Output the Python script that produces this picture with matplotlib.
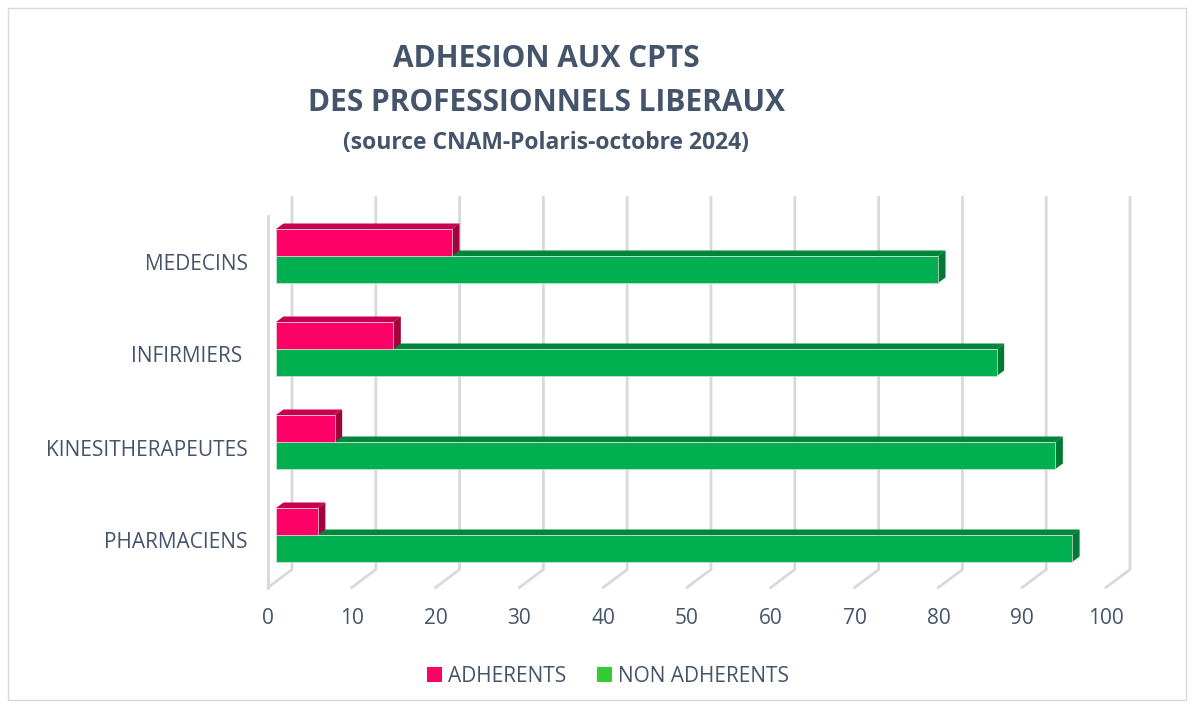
import numpy as np
import matplotlib.pyplot as plt
from matplotlib.patches import Polygon, Rectangle, Patch

# data (percent of professionals)
categories = ['MEDECINS', 'INFIRMIERS ', 'KINESITHERAPEUTES', 'PHARMACIENS']
adherents = [21, 14, 7, 5]
non_adherents = [79, 86, 93, 95]
series_names = ['ADHERENTS', 'NON ADHERENTS']
xticks = list(range(0, 101, 10))

plt.rcParams['font.family'] = ['Open Sans', 'DejaVu Sans']
TXT = '#44546a'
GRID = '#d9d9d9'

W, H = 1194, 706
fig = plt.figure(figsize=(W / 100, H / 100), dpi=100)

# axes = plane of the bar fronts
ax = fig.add_axes([276 / W, 1 - 581.5 / H, 838 / W, 372 / H])
ax.set_xlim(0, 100)
ax.set_ylim(len(categories) - 0.5, -0.5)
ax.axis('off')

px_x = 100 / 838
px_y = len(categories) / 372


def shift(dx, dy):
    # pixels (right, up) -> data units
    return dx * px_x, -dy * px_y


bx, by = shift(16, 12)    # back wall
fx, fy = shift(-8, -6)    # front edge of floor
y_top, y_bot = -0.5, len(categories) - 0.5

# grid: back wall verticals + floor diagonals
for v in xticks:
    ax.plot([v + bx, v + bx, v + fx], [y_top + by, y_bot + by, y_bot + fy],
            color=GRID, lw=2.0, clip_on=False, zorder=1, solid_joinstyle='miter')
# left side wall front edge
ax.plot([fx, fx], [y_top + fy, y_bot + fy], color=GRID, lw=2.0, clip_on=False, zorder=1)

# tick labels along the front of the floor
for v in xticks:
    ax.text(v + fx, y_bot + fy + 31 * px_y, str(v), ha='center', va='center',
            fontsize=15, color=TXT, clip_on=False)

# category labels
lx, ly = shift(-28, -8)
for i, c in enumerate(categories):
    ax.text(lx, i + ly, c, ha='right', va='center', fontsize=15, color=TXT, clip_on=False)

# 3d bars
bar_h = 27 * px_y
ddx, ddy = shift(7.5, 5.5)
y = np.arange(len(categories))


def faces(vals, ypos, c_top, c_side):
    for v, yc in zip(vals, ypos):
        y0, y1 = yc - bar_h / 2, yc + bar_h / 2
        ax.add_patch(Polygon([(0, y0), (v, y0), (v + ddx, y0 + ddy), (ddx, y0 + ddy)],
                             closed=True, fc=c_top, ec='none', zorder=3, clip_on=False))
        ax.add_patch(Polygon([(v, y0), (v + ddx, y0 + ddy), (v + ddx, y1 + ddy), (v, y1)],
                             closed=True, fc=c_side, ec='none', zorder=3, clip_on=False))


green_y = y + bar_h / 2
pink_y = y - bar_h / 2
faces(non_adherents, green_y, '#00853a', '#007a33')
ax.barh(green_y, non_adherents, height=bar_h, color='#00b050', zorder=3,
        edgecolor='#dcdcdc', linewidth=0.5, clip_on=False)
faces(adherents, pink_y, '#c8004f', '#a3003e')
ax.barh(pink_y, adherents, height=bar_h, color='#ff0066', zorder=4,
        edgecolor='#dcdcdc', linewidth=0.5, clip_on=False)

# titles
fig.text(546 / W, 1 - 59 / H, 'ADHESION AUX CPTS', ha='center', va='center',
         fontsize=21.5, fontweight='bold', color=TXT)
fig.text(546 / W, 1 - 103 / H, 'DES PROFESSIONNELS LIBERAUX', ha='center', va='center',
         fontsize=21.5, fontweight='bold', color=TXT)
fig.text(546 / W, 1 - 143 / H, '(source CNAM-Polaris-octobre 2024)', ha='center', va='center',
         fontsize=16.5, fontweight='bold', color=TXT)

# legend
handles = [Patch(fc='#ff0066'), Patch(fc='#33cc33')]
fig.legend(handles, series_names, loc='center', bbox_to_anchor=(608 / W, 1 - 676 / H),
           ncol=2, frameon=False, fontsize=15, handlelength=0.7, handleheight=0.7,
           handletextpad=0.3, columnspacing=1.5, labelcolor=TXT)

# chart border
fig.patches.append(Rectangle((8 / W, 6 / H), (1186 - 8) / W, (700 - 8) / H,
                             transform=fig.transFigure, fill=False, ec='#d9d9d9', lw=1))

fig.savefig('out.png', dpi=100, facecolor='white')
